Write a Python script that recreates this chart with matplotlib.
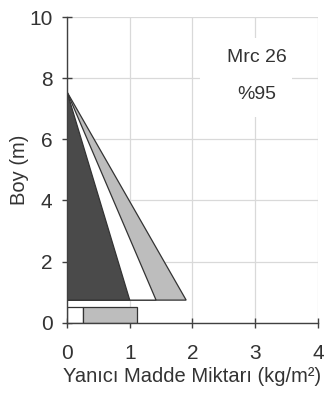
import matplotlib
matplotlib.use("Agg")
import matplotlib.pyplot as plt
from matplotlib.patches import Rectangle

plt.rcParams['font.family'] = ['Liberation Sans', 'DejaVu Sans']

# Data
apex_height = 7.55
crown_base = 0.74
tri_widths = [1.9, 1.42, 1.0]        # gray, white, dark (outer to inner)
tri_colors = ['#bdbdbd', '#ffffff', '#4a4a4a']
rect_top = 0.52
rect_edges = [0.0, 0.26, 1.11]       # white rect 0-0.26, gray rect 0.26-1.11
rect_colors = ['#ffffff', '#bdbdbd']
xticks = [0, 1, 2, 3, 4]
yticks = [0, 2, 4, 6, 8, 10]
label_lines = ['Mrc 26', '%95']

fig = plt.figure(figsize=(3.27, 3.96), dpi=100)
ax = fig.add_axes([0.205, 0.185, 0.767, 0.772])

ax.set_xlim(0, 4)
ax.set_ylim(0, 10)
ax.set_xticks(xticks)
ax.set_yticks(yticks)
ax.grid(True, color='#d9d9d9', linewidth=0.9)
ax.set_axisbelow(True)

for w, c in zip(tri_widths, tri_colors):
    ax.fill([0, w, 0], [apex_height, crown_base, crown_base],
            facecolor=c, edgecolor='#333333', linewidth=0.9, zorder=3)

for i, c in enumerate(rect_colors):
    x0, x1 = rect_edges[i], rect_edges[i + 1]
    ax.fill([x0, x1, x1, x0], [0, 0, rect_top, rect_top],
            facecolor=c, edgecolor='#333333', linewidth=0.9, zorder=3)

for s in ['top', 'right']:
    ax.spines[s].set_visible(False)
for s in ['left', 'bottom']:
    ax.spines[s].set_color('#404040')
    ax.spines[s].set_linewidth(1.0)
    ax.spines[s].set_zorder(4)

ax.tick_params(axis='both', direction='inout', length=7, width=1.0,
               color='#404040', labelsize=15, labelcolor='#333333')
ax.tick_params(axis='x', pad=12)
ax.tick_params(axis='y', pad=7)

# white label box hiding gridlines
ax.add_patch(Rectangle((2.12, 6.74), 1.46, 2.59, facecolor='white',
                       edgecolor='none', zorder=2))
ax.text(3.02, 8.67, label_lines[0], ha='center', va='center', fontsize=14,
        color='#333333', zorder=5)
ax.text(3.03, 7.47, label_lines[1], ha='center', va='center', fontsize=14,
        color='#333333', zorder=5)

ax.set_xlabel('Yanıcı Madde Miktarı (kg/m²)', fontsize=14.5, color='#333333', labelpad=3)
ax.set_ylabel('Boy (m)', fontsize=14.5, color='#333333', labelpad=0)

fig.savefig('out.png', dpi=100)
